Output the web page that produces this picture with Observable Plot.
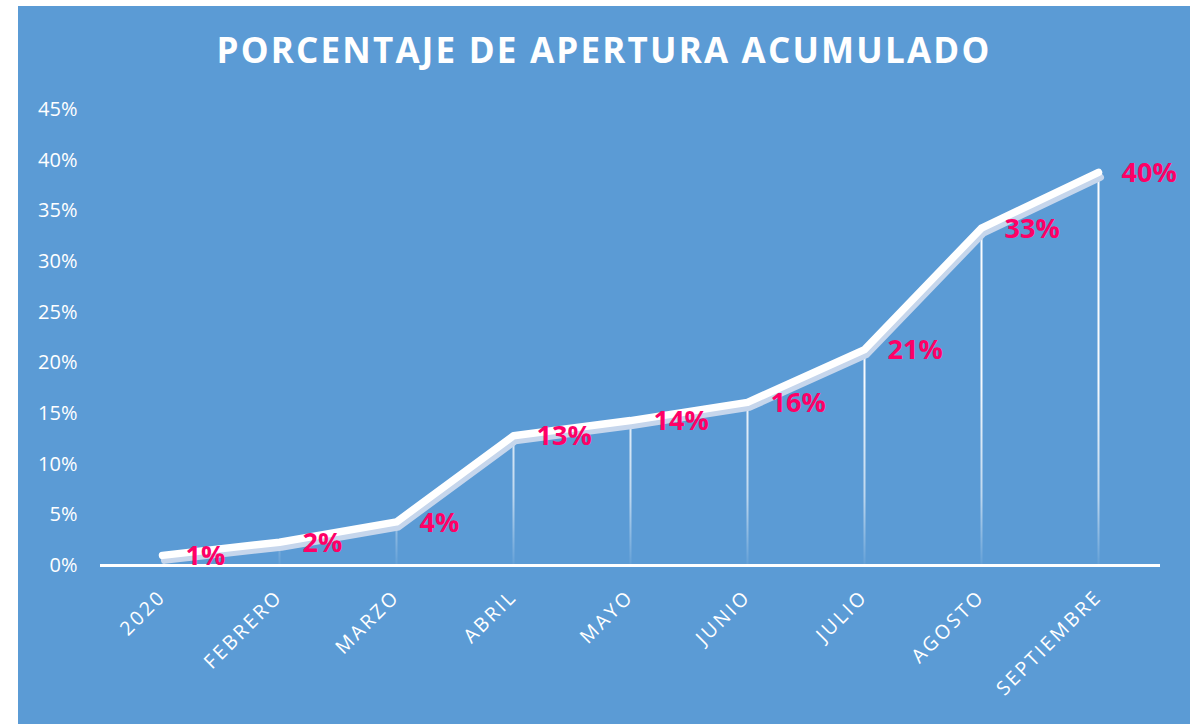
<!DOCTYPE html>
<html>
<head>
<meta charset="utf-8">
<script src="https://cdn.jsdelivr.net/npm/d3@7"></script>
<script src="https://cdn.jsdelivr.net/npm/@observablehq/plot@0.6"></script>
<style>
  html, body { margin: 0; padding: 0; background: #ffffff; }
  #wrap { position: absolute; left: 18px; top: 6px; width: 1172px; height: 718px; background: #5B9BD5; overflow: hidden; }
  #title { position: absolute; left: 0; top: 26px; width: 100%; text-align: center; color: #ffffff;
           font-family: "Open Sans", sans-serif; font-weight: bold; font-size: 35px; line-height: 35px; letter-spacing: 2.2px; }
  #chart { position: absolute; left: 0; top: 0; }
  #chart g[aria-label="x-axis tick label"] text { letter-spacing: 2.6px; }
</style>
</head>
<body>
<div id="wrap">
  <div id="chart"></div>
  <div id="title">PORCENTAJE DE APERTURA ACUMULADO</div>
</div>
<script>
const categories = ["2020", "FEBRERO", "MARZO", "ABRIL", "MAYO", "JUNIO", "JULIO", "AGOSTO", "SEPTIEMBRE"];
const values = [0.010, 0.023, 0.043, 0.128, 0.143, 0.161, 0.213, 0.333, 0.388];
const valueLabels = ["1%", "2%", "4%", "13%", "14%", "16%", "21%", "33%", "40%"];
const yTicks = [0, 0.05, 0.10, 0.15, 0.20, 0.25, 0.30, 0.35, 0.40, 0.45];

const data = categories.map((c, i) => ({cat: c, v: values[i], label: valueLabels[i]}));

const chart = Plot.plot({
  width: 1172,
  height: 718,
  marginLeft: 82,
  marginRight: 30,
  marginTop: 103,
  marginBottom: 159,
  style: {background: "transparent", color: "#ffffff", fontFamily: "'Open Sans', sans-serif", fontSize: "20px", overflow: "visible"},
  x: {type: "point", domain: categories, padding: 0.5, label: null},
  y: {domain: [0, 0.45], label: null},
  marks: [
    Plot.axisY({ticks: yTicks, tickFormat: d => Math.round(d * 100) + "%", tickSize: 0, tickPadding: 23, fontSize: 20, label: null}),
    Plot.axisX({tickRotate: -45, tickSize: 0, tickPadding: 28, fontSize: 19.5, label: null}),
    Plot.ruleX(data, {x: "cat", y1: 0, y2: "v", stroke: "url(#dropFade)", strokeWidth: 2}),
    Plot.line(data, {x: "cat", y: "v", stroke: "#c6d6ec", strokeWidth: 7, dx: 2, dy: 5, strokeLinecap: "round", strokeLinejoin: "round"}),
    Plot.line(data, {x: "cat", y: "v", stroke: "#ffffff", strokeWidth: 7.5, strokeLinecap: "round", strokeLinejoin: "round"}),
    Plot.ruleY([0], {stroke: "#ffffff", strokeWidth: 3}),
    Plot.text(data, {x: "cat", y: "v", text: "label", dx: 23, dy: 1, textAnchor: "start", fill: "#FF0066", fontWeight: "bold", fontSize: 27})
  ]
});

const yScale = chart.scale("y");
const yTop = yScale.apply(0.45), yBottom = yScale.apply(0);
const ns = "http://www.w3.org/2000/svg";
const defs = document.createElementNS(ns, "defs");
const grad = document.createElementNS(ns, "linearGradient");
grad.setAttribute("id", "dropFade");
grad.setAttribute("gradientUnits", "userSpaceOnUse");
grad.setAttribute("x1", 0); grad.setAttribute("x2", 0);
grad.setAttribute("y1", yTop); grad.setAttribute("y2", yBottom);
[[0, 1], [0.6, 0.95], [0.85, 0.6], [1, 0.05]].forEach(([o, a]) => {
  const s = document.createElementNS(ns, "stop");
  s.setAttribute("offset", o);
  s.setAttribute("stop-color", "#ffffff");
  s.setAttribute("stop-opacity", a);
  grad.appendChild(s);
});
defs.appendChild(grad);
chart.insertBefore(defs, chart.firstChild);

document.getElementById("chart").appendChild(chart);
</script>
</body>
</html>
